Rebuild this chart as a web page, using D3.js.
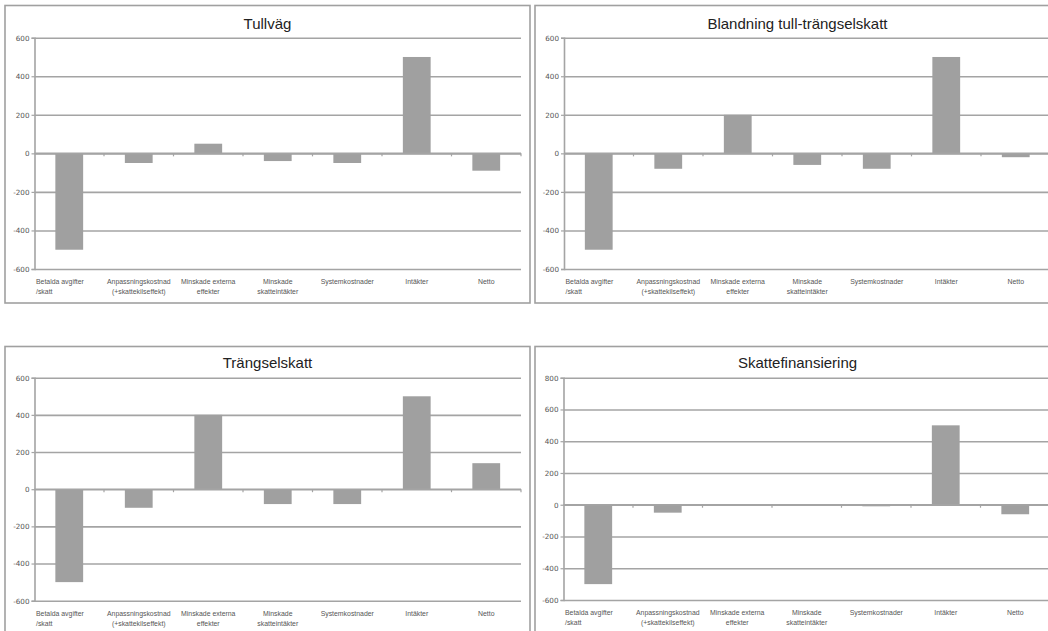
<!DOCTYPE html>
<html>
<head>
<meta charset="utf-8">
<script src="https://cdn.jsdelivr.net/npm/d3@7"></script>
<style>
  html, body { margin: 0; padding: 0; background: #fff; }
  svg { display: block; }
</style>
</head>
<body>
<svg id="chart" width="1048" height="631"></svg>
<script>
// Categories (line breaks mark where the axis label wraps)
const categories = [
  "Betalda avgifter\n/skatt",
  "Anpassningskostnad\n(+skattekilseffekt)",
  "Minskade externa\neffekter",
  "Minskade\nskatteintäkter",
  "Systemkostnader",
  "Intäkter",
  "Netto"
];

// Panel titles
const titles = ["Tullväg", "Blandning tull-trängselskatt", "Trängselskatt", "Skattefinansiering"];

// Values per alternative
const tullvag            = [-500, -50,  50, -40, -50, 500, -90];
const blandning          = [-500, -80, 200, -60, -80, 500, -20];
const trangselskatt      = [-500, -100, 400, -80, -80, 500, 140];
const skattefinansiering = [-500, -50,   0,   0, -10, 500, -60];

// Y tick values
const ticks600 = [-600, -400, -200, 0, 200, 400, 600];
const ticks800 = [-600, -400, -200, 0, 200, 400, 600, 800];

const series = [tullvag, blandning, trangselskatt, skattefinansiering];
const tickSets = [ticks600, ticks600, ticks600, ticks800];

// Panel frames and plot areas
const panels = [
  { bx: 5,   by: 5.5,   left: 34.5,  top: 37.7,  bottom: 269   },
  { bx: 535, by: 5.5,   left: 564,   top: 37.7,  bottom: 269   },
  { bx: 5,   by: 346.5, left: 34.5,  top: 377.7, bottom: 600.7 },
  { bx: 535, by: 346.5, left: 563.5, top: 377.7, bottom: 600   }
];
const panelW = 525, panelH = 297.5, plotW = 486.5;

const svg = d3.select("#chart");
const gridColor = "#a4a4a4";
const barColor = "#a0a0a0";
const textColor = "#555";

panels.forEach((p, i) => {
  const values = series[i];
  const tks = tickSets[i];
  const g = svg.append("g");

  // frame
  g.append("rect")
    .attr("x", p.bx).attr("y", p.by)
    .attr("width", panelW).attr("height", panelH)
    .attr("fill", "#fff")
    .attr("stroke", "#a0a0a0").attr("stroke-width", 1.6);

  const x = d3.scaleBand()
    .domain(categories)
    .range([p.left, p.left + plotW])
    .paddingInner(0.6).paddingOuter(0.3);

  const y = d3.scaleLinear()
    .domain([d3.min(tks), d3.max(tks)])
    .range([p.bottom, p.top]);

  // gridlines
  const grid = g.append("g")
    .attr("transform", `translate(${p.left},0)`)
    .call(d3.axisLeft(y).tickValues(tks).tickSize(-plotW).tickFormat(""));
  grid.select(".domain").remove();
  grid.selectAll(".tick line")
    .attr("stroke", gridColor).attr("stroke-width", 1.6);

  // title
  g.append("text")
    .attr("x", p.bx + panelW / 2)
    .attr("y", p.by + (i < 2 ? 23 : 21.5))
    .attr("text-anchor", "middle")
    .attr("font-family", "Liberation Sans, Arial, sans-serif")
    .attr("font-size", 15)
    .attr("fill", "#222")
    .text(titles[i]);

  // bars
  g.append("g").selectAll("rect")
    .data(values)
    .join("rect")
    .attr("x", (d, j) => x(categories[j]))
    .attr("width", x.bandwidth())
    .attr("y", d => y(Math.max(0, d)))
    .attr("height", d => Math.abs(y(d) - y(0)))
    .attr("fill", barColor);

  // y axis
  const ya = g.append("g")
    .attr("transform", `translate(${p.left},0)`)
    .call(d3.axisLeft(y).tickValues(tks).tickSize(3).tickPadding(2).tickFormat(d3.format("d")));
  ya.select(".domain").attr("stroke", gridColor).attr("stroke-width", 1.6);
  ya.selectAll(".tick line").attr("stroke", gridColor).attr("stroke-width", 1.2);
  ya.selectAll(".tick text")
    .attr("fill", textColor)
    .attr("font-family", "DejaVu Sans, Verdana, sans-serif")
    .attr("font-size", 7.2)
    .text(d => String(d).replace("\u2212", "-"));

  // zero line with category boundary ticks
  const y0 = y(0);
  g.append("line")
    .attr("x1", p.left).attr("x2", p.left + plotW)
    .attr("y1", y0).attr("y2", y0)
    .attr("stroke", gridColor).attr("stroke-width", 1.6);
  const bounds = d3.range(1, categories.length + 1).map(k => p.left + x.step() * k);
  g.append("g").selectAll("line")
    .data(bounds)
    .join("line")
    .attr("x1", d => d).attr("x2", d => d)
    .attr("y1", y0).attr("y2", y0 + 3)
    .attr("stroke", gridColor).attr("stroke-width", 1.2);

  // category labels
  const lab = g.append("g")
    .attr("font-family", "Liberation Sans, Arial, sans-serif")
    .attr("font-size", 6.9)
    .attr("fill", textColor);
  categories.forEach((c, j) => {
    const lines = c.split("\n");
    const first = j === 0;
    const t = lab.append("text")
      .attr("text-anchor", first ? "start" : "middle");
    lines.forEach((ln, k) => {
      t.append("tspan")
        .attr("x", first ? p.left + 1.5 : x(c) + x.bandwidth() / 2)
        .attr("y", p.bottom + 15.2 + k * 10)
        .text(ln);
    });
  });
});
</script>
</body>
</html>
